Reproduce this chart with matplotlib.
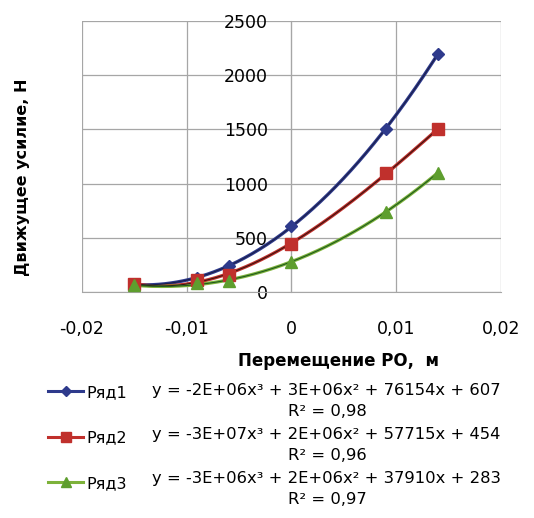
import numpy as np
import matplotlib.pyplot as plt
from matplotlib.lines import Line2D

plt.rcParams['font.family'] = ['DejaVu Sans']

x = [-0.015, -0.009, -0.006, 0.0, 0.009, 0.014]
row1 = [70, 130, 240, 610, 1500, 2200]
row2 = [70, 110, 160, 440, 1100, 1500]
row3 = [60, 80, 100, 280, 740, 1100]

names = ['Ряд1', 'Ряд2', 'Ряд3']
equations = ['y = -2E+06x³ + 3E+06x² + 76154x + 607',
             'y = -3E+07x³ + 2E+06x² + 57715x + 454',
             'y = -3E+06x³ + 2E+06x² + 37910x + 283']
r2_labels = ['R² = 0,98', 'R² = 0,96', 'R² = 0,97']

xticks = [-0.02, -0.01, 0, 0.01, 0.02]
xtick_labels = ['-0,02', '-0,01', '0', '0,01', '0,02']
yticks = [0, 500, 1000, 1500, 2000, 2500]

colors = ['#2E3A8C', '#C0302C', '#7DB23A']
mcolors = ['#2E3A8C', '#C0302C', '#5E9E2E']
trend_colors = ['#1B1F4A', '#3A1410', '#1E5A1E']
markers = ['D', 's', '^']
msizes = [6, 8.5, 8]

fig = plt.figure(figsize=(5.34, 5.18), dpi=100)
ax = fig.add_axes([0.1536, 0.4363, 0.7843, 0.5232])

handles = []
for ys, c, mc, tc, m, ms in zip([row1, row2, row3], colors, mcolors, trend_colors, markers, msizes):
    # smoothed series line + cubic trend line
    p = np.polyfit(x, ys, 3)
    xx = np.linspace(min(x), max(x), 200)
    ax.plot(xx, np.polyval(p, xx), color=c, lw=2.4, zorder=3)
    ax.plot(xx, np.polyval(p, xx), color=tc, lw=0.8, zorder=4)
    ax.plot(x, ys, ls='none', marker=m, ms=ms, mfc=mc, mec=mc, zorder=5)
    handles.append(Line2D([], [], color=c, lw=2.2, marker=m, ms=ms * 0.85, mfc=mc, mec=mc))

ax.set_xlim(-0.02, 0.02)
ax.set_ylim(0, 2500)
ax.set_xticks(xticks)
ax.set_xticklabels(xtick_labels)
ax.set_yticks(yticks)
ax.grid(True, color='#A6A6A6', lw=0.9)
ax.set_axisbelow(True)
for s in ['top', 'right']:
    ax.spines[s].set_visible(False)
ax.spines['left'].set_position(('data', 0))
ax.spines['left'].set_color('#A6A6A6')
ax.spines['bottom'].set_color('#A6A6A6')
ax.tick_params(axis='y', length=0, pad=17, labelsize=12.5)
ax.tick_params(axis='x', length=0, pad=20, labelsize=12.5)

fig.text(0.043, 0.657, 'Движущее усилие, Н', rotation=90, ha='center', va='center',
         fontsize=11.5, fontweight='bold')
fig.text(0.633, 0.303, 'Перемещение РО,  м', ha='center', va='center',
         fontsize=12, fontweight='bold')

fig.legend(handles=handles, labels=names, loc='upper left',
           bbox_to_anchor=(0.075, 0.272), frameon=False, fontsize=11.5,
           handlelength=2.2, handletextpad=0.2, labelspacing=1.9, borderpad=0)

eq_y = [391, 434, 479]
r2_y = [412, 455, 500]
for eq, r2, ey, ry in zip(equations, r2_labels, eq_y, r2_y):
    fig.text(326 / 534, 1 - ey / 518, eq, ha='center', va='center', fontsize=11.8)
    fig.text(327 / 534, 1 - ry / 518, r2, ha='center', va='center', fontsize=11.8)

fig.savefig('out.png', dpi=100)
